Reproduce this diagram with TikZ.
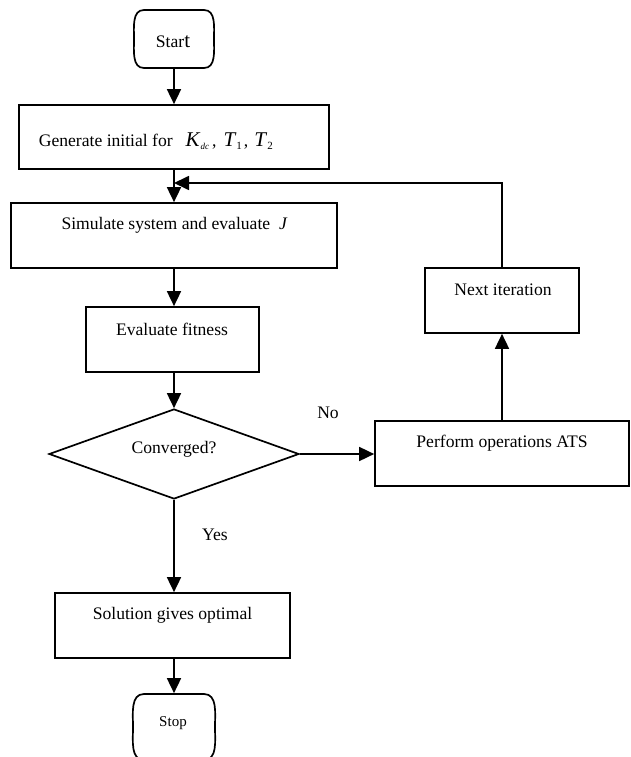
\documentclass[tikz,border=0pt]{standalone}
\usepackage{fontspec}
\setmainfont{Liberation Serif}
\usetikzlibrary{arrows.meta,shapes.geometric}
\newcommand{\bigit}[1]{{\fontsize{21}{21}\selectfont\textit{#1}}}
\newcommand{\lowsub}[2]{\raisebox{-3pt}{\fontsize{#1}{#1}\selectfont #2}}
\begin{document}
\begin{tikzpicture}[x=1pt,y=-1pt,
  line width=1.7pt,
  box/.style={draw,rectangle,inner sep=0pt,line width=1.7pt},
  txt/.style={inner sep=0pt,font=\fontsize{17.6}{20}\selectfont},
  arr/.style={-{Triangle[length=15pt,width=14pt]},line width=1.7pt},
  ln/.style={line width=1.7pt}]
\useasboundingbox (0,0) rectangle (630,757);
% terminals
\node[inner sep=0pt,minimum width=80pt,minimum height=58pt] (start) at (174,39) {};
\draw[ln] (144,10) -- (204,10) to[out=0,in=90] (214,39) to[out=-90,in=0] (204,68) -- (144,68) to[out=180,in=-90] (134,39) to[out=90,in=180] (144,10);
\node[txt] (startT) at (173,42) {Star{\fontsize{21}{21}\selectfont t}};
\node[inner sep=0pt,minimum width=80pt,minimum height=66pt] (stop) at (174,727) {};
\draw[ln] (144,694) -- (204,694) to[out=0,in=90] (215,727) to[out=-90,in=0] (204,760) -- (144,760) to[out=180,in=-90] (133,727) to[out=90,in=180] (144,694);
\node[txt,font=\fontsize{15}{17}\selectfont] (stopT) at (173,723) {Stop};
% boxes
\node[box,minimum width=310pt,minimum height=64pt] (gen) at (174,137) {};
\node[txt,anchor=west] (genT) at (38,141) {Generate initial for\hspace{13pt}\bigit{K}\lowsub{9}{\textit{dc}}\hspace{3pt},\hspace{7pt}\bigit{T}\lowsub{11}{1}\hspace{2pt},\hspace{6pt}\bigit{T}\lowsub{11}{2}};
\node[box,minimum width=326pt,minimum height=65pt] (sim) at (174,235.5) {};
\node[txt] (simT) at (174.5,225) {Simulate system and evaluate \ \textit{J}};
\node[box,minimum width=173pt,minimum height=65pt] (fit) at (172.5,339.5) {};
\node[txt] (fitT) at (172,329) {Evaluate fitness};
\node[draw,diamond,aspect=2.78,minimum width=250pt,minimum height=90pt,inner sep=0pt,line width=1.7pt] (dia) at (174,454) {};
\node[txt] (diaT) at (174,449) {Converged?};
\node[box,minimum width=254pt,minimum height=65pt] (perf) at (502,453.5) {};
\node[txt] (perfT) at (502,443) {Perform operations ATS};
\node[box,minimum width=154pt,minimum height=65pt] (next) at (502,300.5) {};
\node[txt] (nextT) at (503,290) {Next iteration};
\node[box,minimum width=235pt,minimum height=65pt] (sol) at (172.5,625.5) {};
\node[txt] (solT) at (172.5,615) {Solution gives optimal};
% labels
\node[txt] (no) at (328,413) {No};
\node[txt] (yes) at (215,535) {Yes};
% connectors
\coordinate (fb) at (174,183);
\draw[arr] (start.south) -- (start.south |- gen.north);
\draw[ln] (start.south |- gen.south) -- (fb);
\draw[arr] (fb) -- (start.south |- sim.north);
\draw[arr] (next.north) |- (fb);
\draw[arr] (start.south |- sim.south) -- (start.south |- fit.north);
\draw[arr] (start.south |- fit.south) -- (dia.north);
\draw[arr] (dia.east) -- (dia.east -| perf.west);
\draw[arr] (perf.north) -- (perf.north |- next.south);
\draw[arr] (dia.south) -- (dia.south |- sol.north);
\draw[arr] (start.south |- sol.south) -- (stop.north);
\end{tikzpicture}
\end{document}
